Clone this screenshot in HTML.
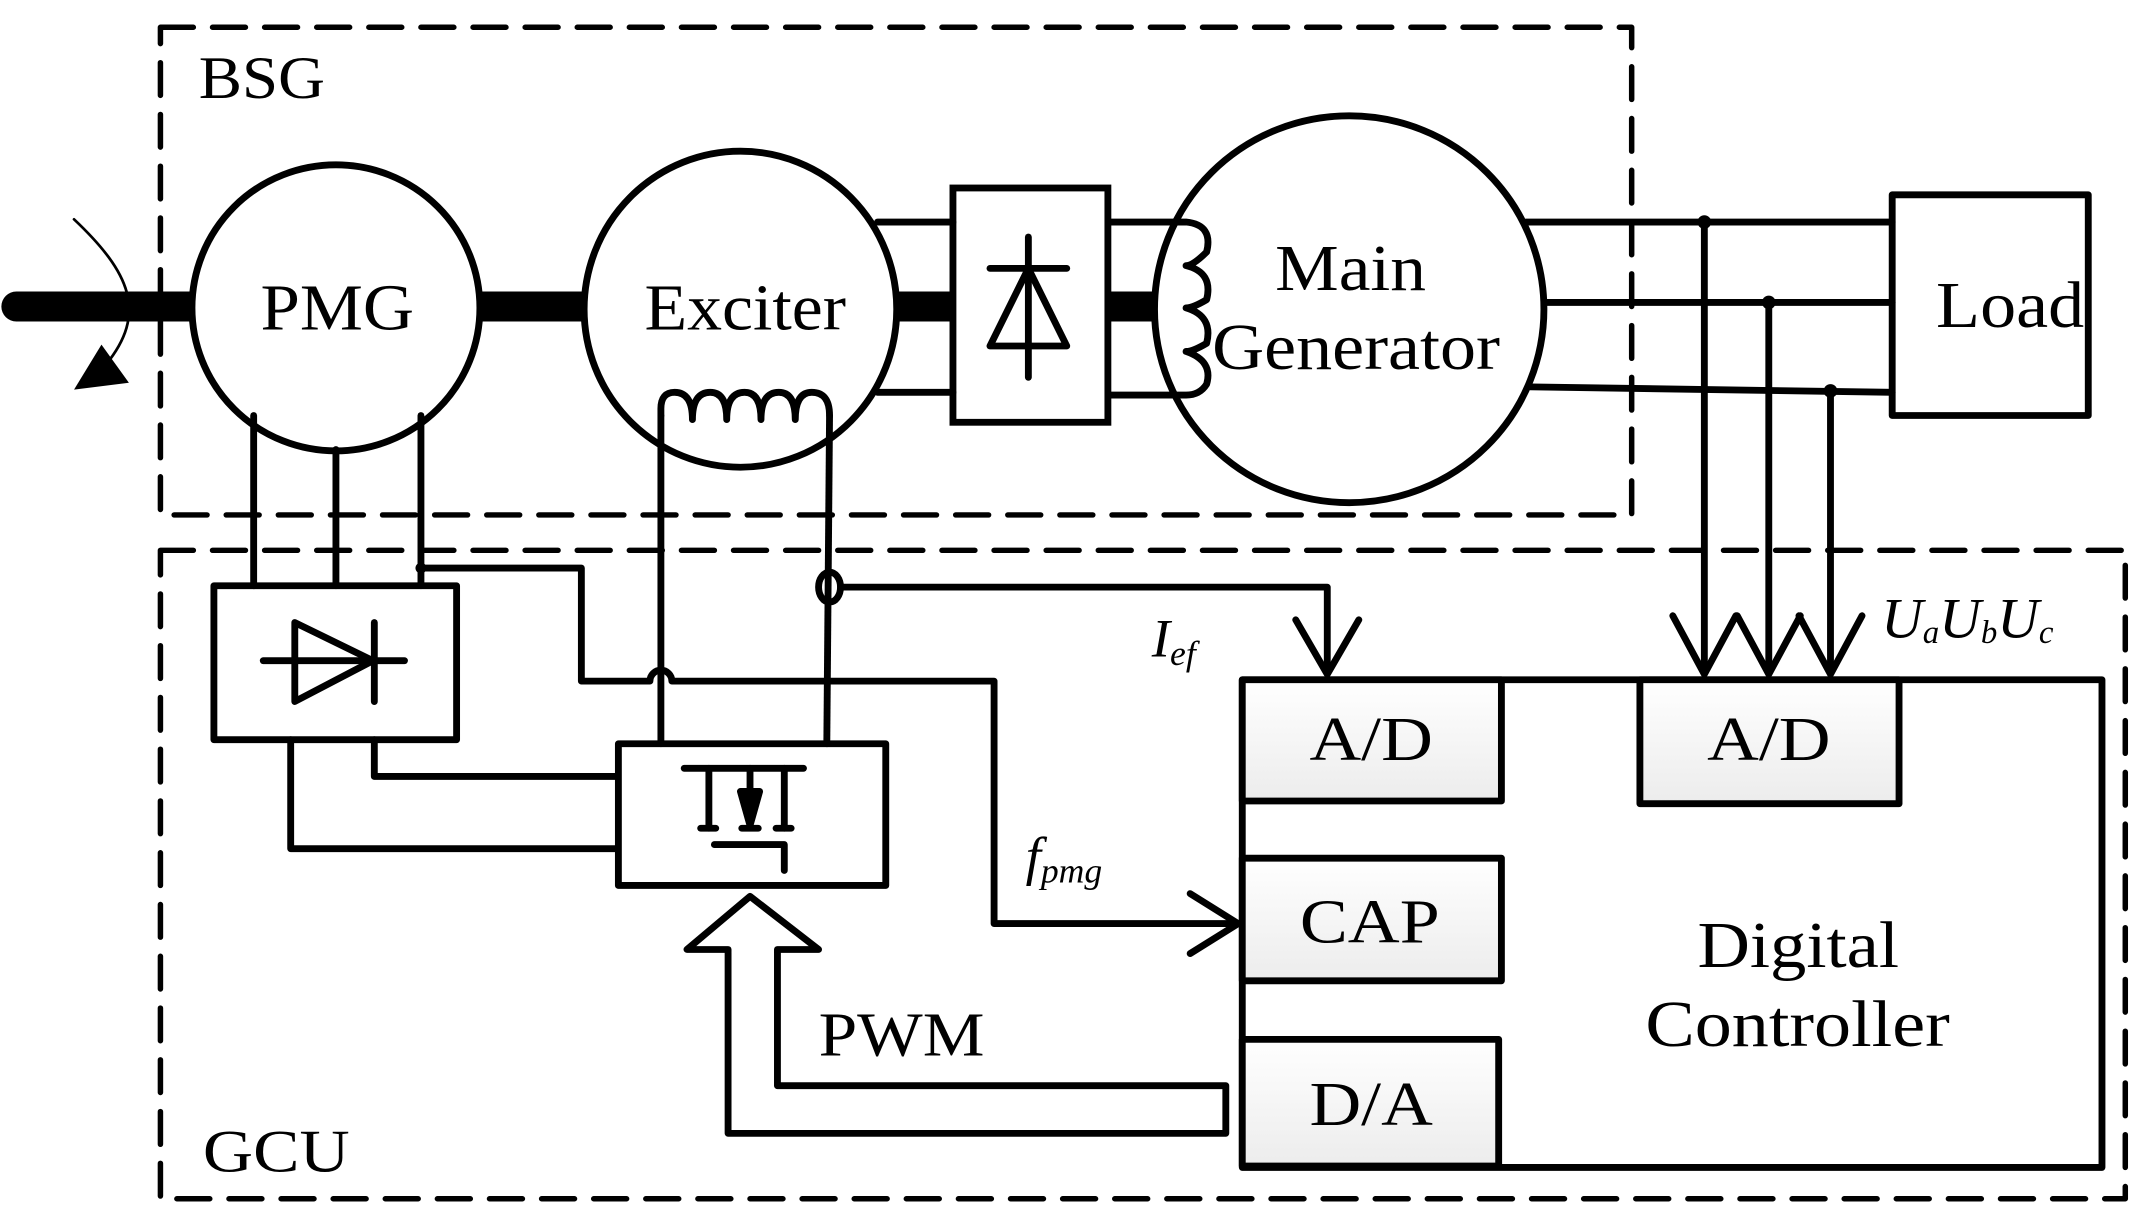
<!DOCTYPE html>
<html><head><meta charset="utf-8"><style>
html,body{margin:0;padding:0;background:#fff;}
svg{display:block;}
text{font-family:"Liberation Serif",serif;fill:#000;}
</style></head><body>
<svg width="2139" height="1226" viewBox="0 0 1560 900" preserveAspectRatio="none" xmlns="http://www.w3.org/2000/svg">
<defs>
<linearGradient id="g" x1="0" y1="0" x2="0" y2="1"><stop offset="0" stop-color="#ffffff"/><stop offset="1" stop-color="#ececec"/></linearGradient>
</defs>
<g fill="none" stroke="#000" stroke-linecap="round" stroke-linejoin="round">
<rect x="117" y="20" width="1073" height="358" stroke-width="4" stroke-dasharray="24 14"/>
<rect x="117" y="404" width="1433" height="476" stroke-width="4" stroke-dasharray="24 14"/>
<line x1="12" y1="225" x2="845" y2="225" stroke-width="22"/>
</g>
<g stroke="#000" stroke-width="5" fill="#fff">
<ellipse cx="245" cy="226" rx="105" ry="105"/>
<ellipse cx="540" cy="227" rx="114" ry="116"/>
<rect x="695" y="138" width="113" height="172"/>
</g>
<g fill="none" stroke="#000" stroke-linecap="round" stroke-linejoin="round" stroke-width="5">
<line x1="808" y1="225" x2="850" y2="225" stroke-width="22" stroke-linecap="butt"/>
<ellipse cx="984" cy="227" rx="142" ry="142" fill="#fff"/>
<path d="M54 161 C95 200 108 230 77 268" stroke-width="2"/>
<line x1="640" y1="163" x2="695" y2="163"/>
<line x1="640" y1="288" x2="695" y2="288"/>
<line x1="750" y1="174" x2="750" y2="277"/>
<line x1="722" y1="197" x2="778" y2="197"/>
<path d="M750 197 L722 254 L778 254 Z"/>
<path d="M808 163 L865 163 Q885 165 880 185 Q870 195 865 195 Q885 200 880 220 Q870 226 865 226 Q885 232 880 252 Q870 258 865 258 Q885 265 880 282 Q875 290 865 290 L808 290"/>
<line x1="1113" y1="163" x2="1380" y2="163"/>
<line x1="1127" y1="222" x2="1380" y2="222"/>
<line x1="1116" y1="284" x2="1380" y2="288"/>
<rect x="1380" y="143" width="143" height="162"/>
<line x1="1243" y1="163" x2="1243" y2="493"/>
<line x1="1290" y1="222" x2="1290" y2="493"/>
<line x1="1335" y1="287" x2="1335" y2="493"/>
<path d="M1220 452 L1243 495 L1266 452"/>
<path d="M1267 452 L1290 495 L1313 452"/>
<path d="M1312 452 L1335 495 L1358 452"/>
<line x1="185" y1="305" x2="185" y2="430"/>
<line x1="245" y1="330" x2="245" y2="430"/>
<line x1="307" y1="305" x2="307" y2="430"/>
<rect x="156" y="430" width="177" height="113"/>
<line x1="192" y1="485" x2="295" y2="485"/>
<path d="M215 457 L215 515 L272 485 Z"/>
<line x1="273" y1="457" x2="273" y2="515"/>
<path d="M212 543 L212 623 L449 623"/>
<path d="M273 543 L273 570 L449 570"/>
<path d="M307 417 L424 417 L424 500 L474 500 A8 8 0 0 1 490 500 L725 500 L725 678 L903 678"/>
<path d="M868 656 L903 678 L868 700"/>
<path d="M482 305 L482 300 Q482 288 492 288 Q505 288 505 308 Q505 288 518 288 Q530 288 530 308 Q530 288 543 288 Q555 288 555 308 Q555 288 568 288 Q580 288 580 308 Q580 288 592 288 Q605 288 605 305"/>
<line x1="482" y1="305" x2="482" y2="546"/>
<line x1="605" y1="305" x2="603" y2="546"/>
<ellipse cx="605" cy="431" rx="8" ry="11"/>
<path d="M613 431 L968 431 L968 493"/>
<path d="M945 455 L968 495 L991 455"/>
<rect x="451" y="546" width="195" height="104"/>
<line x1="499" y1="564" x2="586" y2="564"/>
<line x1="517" y1="564" x2="517" y2="608"/>
<line x1="572" y1="564" x2="572" y2="608"/>
<line x1="511" y1="608" x2="522" y2="608"/>
<line x1="541" y1="608" x2="553" y2="608"/>
<line x1="566" y1="608" x2="577" y2="608"/>
<line x1="547" y1="564" x2="547" y2="582"/>
<path d="M540 581 L554 581 L547 606 Z" fill="#000"/>
<path d="M521 620 L572 620 L572 639"/>
<path d="M547 658 L501 697 L531 697 L531 832 L894 832 L894 797 L567 797 L567 697 L597 697 Z"/>
<rect x="906" y="499" width="627" height="358"/>
<rect x="906" y="499" width="189" height="89" fill="url(#g)"/>
<rect x="1196" y="499" width="189" height="91" fill="url(#g)"/>
<rect x="906" y="630" width="189" height="90" fill="url(#g)"/>
<rect x="906" y="763" width="187" height="93" fill="url(#g)"/>
</g>
<g fill="#000">
<circle cx="1243" cy="163" r="5"/>
<circle cx="1290" cy="222" r="5"/>
<circle cx="1335" cy="287" r="5"/>
<circle cx="307" cy="417" r="4"/>
<path d="M54 286 L74 253 L94 281 Z"/>
</g>
<g font-size="44" lengthAdjust="spacingAndGlyphs">
<text x="145" y="72" textLength="92" lengthAdjust="spacingAndGlyphs">BSG</text>
<text x="148" y="860" textLength="107" lengthAdjust="spacingAndGlyphs">GCU</text>
<text x="190" y="242" font-size="48" textLength="112" lengthAdjust="spacingAndGlyphs">PMG</text>
<text x="470" y="242" font-size="48" textLength="147" lengthAdjust="spacingAndGlyphs">Exciter</text>
<text x="930" y="213" font-size="48" textLength="110" lengthAdjust="spacingAndGlyphs">Main</text>
<text x="884" y="271" font-size="48" textLength="210" lengthAdjust="spacingAndGlyphs">Generator</text>
<text x="1412" y="240" font-size="48" textLength="108" lengthAdjust="spacingAndGlyphs">Load</text>
<text x="955" y="558" font-size="46" textLength="90" lengthAdjust="spacingAndGlyphs">A/D</text>
<text x="1245" y="558" font-size="46" textLength="90" lengthAdjust="spacingAndGlyphs">A/D</text>
<text x="948" y="692" font-size="46" textLength="102" lengthAdjust="spacingAndGlyphs">CAP</text>
<text x="955" y="826" font-size="46" textLength="90" lengthAdjust="spacingAndGlyphs">D/A</text>
<text x="1238" y="710" font-size="48" textLength="147" lengthAdjust="spacingAndGlyphs">Digital</text>
<text x="1200" y="768" font-size="48" textLength="222" lengthAdjust="spacingAndGlyphs">Controller</text>
<text x="597" y="775" font-size="46" textLength="121" lengthAdjust="spacingAndGlyphs">PWM</text>
<text x="840" y="482" font-style="italic" font-size="40">I<tspan font-size="26" dy="6">ef</tspan></text>
<text x="748" y="642" font-style="italic" font-size="40">f<tspan font-size="26" dy="6">pmg</tspan></text>
<text x="1372" y="468" font-style="italic" font-size="42">U<tspan font-size="24" dy="4">a</tspan><tspan dy="-4">U</tspan><tspan font-size="24" dy="4">b</tspan><tspan dy="-4">U</tspan><tspan font-size="24" dy="4">c</tspan></text>
</g>
</svg>
</body></html>
